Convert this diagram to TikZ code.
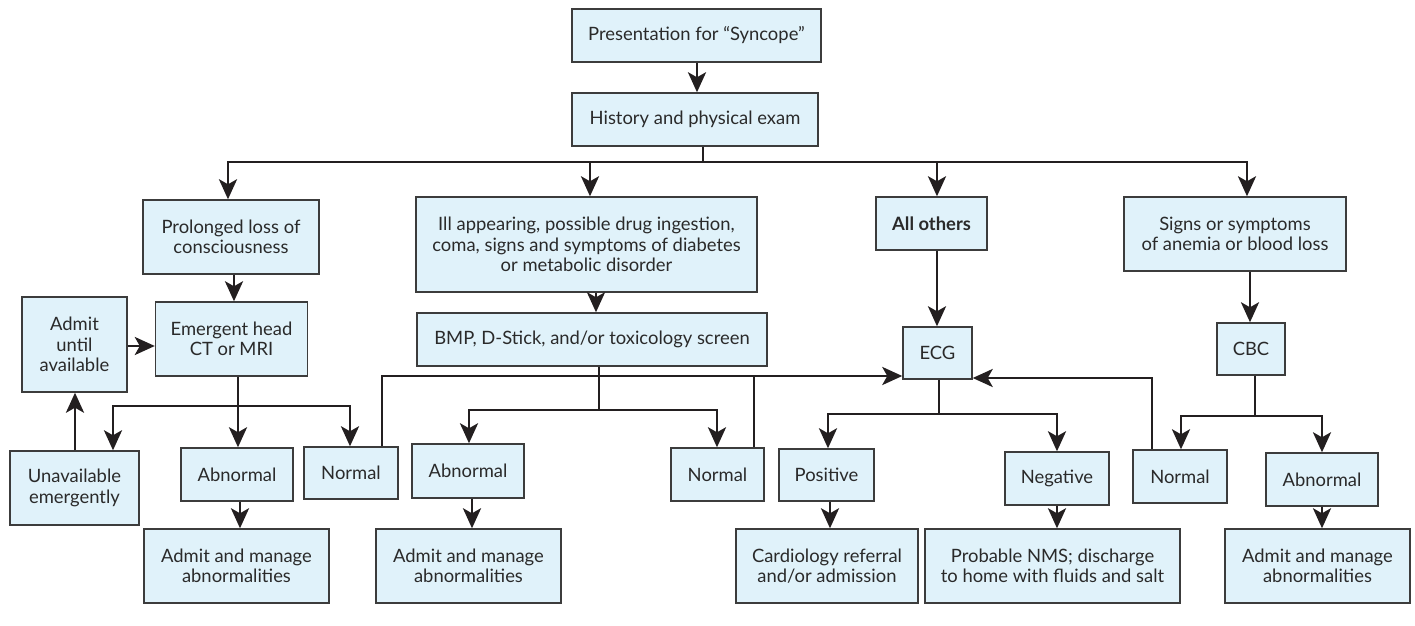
\documentclass[tikz,border=0pt]{standalone}
\usepackage{fontspec}
\setmainfont{Lato}
\usetikzlibrary{arrows.meta}
\definecolor{boxfill}{HTML}{E0F2FA}
\definecolor{boxline}{HTML}{3C3C3C}
\definecolor{conn}{HTML}{231F20}
\definecolor{txt}{HTML}{2A2A2A}
\begin{document}
\begin{tikzpicture}[x=0.5pt,y=-0.5pt,
  box/.style={draw=boxline, fill=boxfill, line width=0.7pt, inner sep=0pt, align=center,
    font=\fontsize{9.2}{10.2}\selectfont, text=txt},
  sz/.style 2 args={minimum width=#1*0.5pt, minimum height=#2*0.5pt},
  link/.style={draw=conn, line width=1.4pt},
  arr/.style={link, -{Stealth[length=10pt,width=9pt,inset=2.5pt]}}
]
\useasboundingbox (0,0) rectangle (1415,626);

% nodes
\node[box, sz={249}{53}] (pres) at (696.5,35.5) {Presentation for “Syncope”};
\node[box, sz={246}{53}] (hist) at (695,119.5) {History and physical exam};
\node[box, sz={176}{74}] (prol) at (231,237) {Prolonged loss of\\consciousness};
\node[box, sz={341}{95}] (ill) at (586.5,244.5) {Ill appearing, possible drug ingestion,\\coma, signs and symptoms of diabetes\\or metabolic disorder};
\node[box, sz={111}{53}, font=\fontsize{9.2}{10.2}\selectfont\bfseries] (allo) at (931.5,223.5) {All others};
\node[box, sz={222}{74}] (sign) at (1235,234) {Signs or symptoms\\of anemia or blood loss};
\node[box, sz={105}{95}] (admu) at (74.5,344.5) {Admit\\until\\available};
\node[box, sz={152}{74}] (emer) at (231.5,339) {Emergent head\\CT or MRI};
\node[box, sz={350}{53}] (bmp) at (592,339.5) {BMP, D-Stick, and/or toxicology screen};
\node[box, sz={69}{52}] (ecg) at (937.5,353) {ECG};
\node[box, sz={68}{52}] (cbc) at (1251,349) {CBC};
\node[box, sz={129}{74}] (unav) at (74.5,488) {Unavailable\\emergently};
\node[box, sz={112}{53}] (abl) at (237,474.5) {Abnormal};
\node[box, sz={94}{52}] (nol) at (351,473) {Normal};
\node[box, sz={112}{54}] (abm) at (468,471) {Abnormal};
\node[box, sz={93}{53}] (nom) at (717.5,474.5) {Normal};
\node[box, sz={95}{52}] (pos) at (826.5,475) {Positive};
\node[box, sz={104}{53}] (neg) at (1057,478.5) {Negative};
\node[box, sz={94}{53}] (nor) at (1180,476.5) {Normal};
\node[box, sz={112}{53}] (abr) at (1322,479.5) {Abnormal};
\node[box, sz={185}{74}] (adl) at (236.5,566) {Admit and manage\\abnormalities};
\node[box, sz={185}{74}] (adm) at (468.5,566) {Admit and manage\\abnormalities};
\node[box, sz={182}{74}] (card) at (827,566) {Cardiology referral\\and/or admission};
\node[box, sz={255}{74}] (nms) at (1052.5,566) {Probable NMS; discharge\\to home with fluids and salt};
\node[box, sz={185}{74}] (adr) at (1317.5,566) {Admit and manage\\abnormalities};

% junctions
\coordinate (j1) at (703,162);
\coordinate (j2) at (238,406);
\coordinate (j3) at (599,410);
\coordinate (j4) at (939,414);
\coordinate (j5) at (1255,416);

% connectors
\draw[arr] (pres.south -| 697,0) -- (hist.north -| 697,0);
\draw[link] (hist.south -| j1) -- (j1);
\draw[arr] (j1) -| (prol.north -| 228,0);
\draw[arr] (j1) -| (sign.north -| 1247,0);
\draw[arr] (j1 -| 590,0) -- (ill.north -| 590,0);
\draw[arr] (j1 -| 937,0) -- (allo.north -| 937,0);

\draw[arr] (prol.south -| 234,0) -- (emer.north -| 234,0);
\draw[arr] (admu.east |- 0,346) -- (emer.west |- 0,346);
\draw[link] (emer.south -| j2) -- (j2);
\draw[arr] (j2) -| (unav.north -| 113,0);
\draw[arr] (j2) -| (nol.north -| 350,0);
\draw[arr] (j2) -- (abl.north -| j2);
\draw[arr] (unav.north -| 75,0) -- (admu.south -| 75,0);
\draw[arr] (abl.south -| 240,0) -- (adl.north -| 240,0);
\draw[arr] (nol.north -| 382,0) |- (ecg.west |- 0,376);

\draw[arr] (ill.south -| 596,0) -- (bmp.north -| 596,0);
\draw[link] (bmp.south -| j3) -- (j3);
\draw[arr] (j3) -| (abm.north -| 469,0);
\draw[arr] (j3) -| (nom.north -| 717,0);
\draw[arr] (abm.south -| 472,0) -- (adm.north -| 472,0);
\draw[link] (nom.north -| 754,0) -- (754,376);

\draw[arr] (allo.south -| 937,0) -- (ecg.north -| 937,0);
\draw[link] (ecg.south -| j4) -- (j4);
\draw[arr] (j4) -| (pos.north -| 828,0);
\draw[arr] (j4) -| (neg.north -| 1057,0);
\draw[arr] (pos.south -| 830,0) -- (card.north -| 830,0);
\draw[arr] (neg.south -| 1057,0) -- (nms.north -| 1057,0);
\draw[arr] (nor.north -| 1152,0) |- (ecg.east |- 0,378);

\draw[arr] (sign.south -| 1250,0) -- (cbc.north -| 1250,0);
\draw[link] (cbc.south -| j5) -- (j5);
\draw[arr] (j5) -| (nor.north -| 1181,0);
\draw[arr] (j5) -| (abr.north -| 1322,0);
\draw[arr] (abr.south -| 1322,0) -- (adr.north -| 1322,0);
\end{tikzpicture}
\end{document}
